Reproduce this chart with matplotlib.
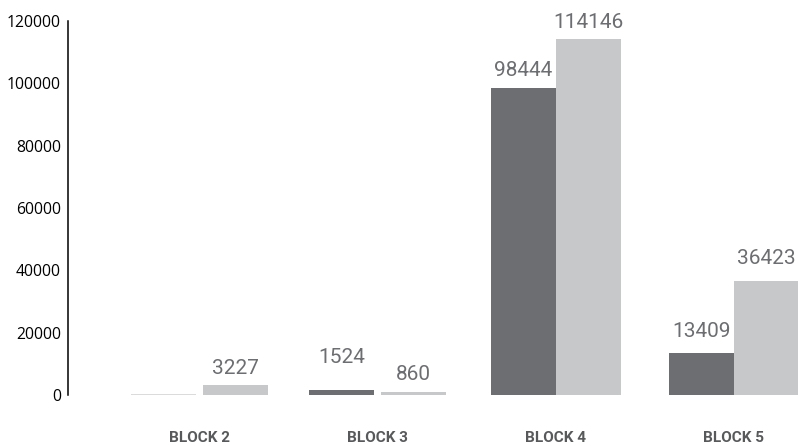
import matplotlib
matplotlib.use("Agg")
import matplotlib.pyplot as plt
import numpy as np

# --- Data ---
blocks = ["BLOCK 2", "BLOCK 3", "BLOCK 4", "BLOCK 5"]
series_dark = [0, 1524, 98444, 13409]
series_light = [3227, 860, 114146, 36423]

# label offsets above the bar top (points), tuned so labels don't collide
dark_offsets = [None, 17, 6, 9]
light_offsets = [5, 6, 5.5, 10]

DARK = "#6d6e71"
LIGHT = "#c7c8ca"
TEXT = "#6d6e71"

fig = plt.figure(figsize=(7.98, 4.46), dpi=100)
ax = fig.add_axes([0.0852, 0.1143, 0.9148, 0.8386])

x = np.arange(len(blocks))
width = 0.365
gaps = [0.039, 0.039, 0.0, 0.0]

for i in range(len(blocks)):
    shift = (width + gaps[i]) / 2
    xd, xl = x[i] - shift, x[i] + shift
    if series_dark[i] == 0:
        # empty bar still shows as a faint baseline
        ax.bar(xd, series_dark[i], width, color=DARK, edgecolor="#d4d4d4", linewidth=1.2)
    else:
        ax.bar(xd, series_dark[i], width, color=DARK, linewidth=0)
    ax.bar(xl, series_light[i], width, color=LIGHT, linewidth=0)

    if dark_offsets[i] is not None:
        ax.annotate(str(series_dark[i]), (xd, series_dark[i]), xytext=(0, dark_offsets[i]),
                    textcoords="offset points", ha="center", va="bottom",
                    fontsize=15, family="Roboto", color=TEXT)
    ax.annotate(str(series_light[i]), (xl, series_light[i]), xytext=(0, light_offsets[i]),
                textcoords="offset points", ha="center", va="bottom",
                fontsize=15, family="Roboto", color=TEXT)

ax.set_xlim(-0.739, 3.362)
ax.set_ylim(0, 120000)
ax.set_yticks(range(0, 120001, 20000))
ax.set_yticklabels([str(v) for v in range(0, 120001, 20000)], family="Open Sans", fontsize=11.3)
ax.tick_params(axis="y", length=0, pad=5)

ax.set_xticks(x)
ax.set_xticklabels(blocks, family="Roboto", fontweight="bold", fontsize=11, color="#58595b")
ax.tick_params(axis="x", length=0, pad=26)

for side in ["top", "right", "bottom"]:
    ax.spines[side].set_visible(False)
ax.spines["left"].set_linewidth(1.1)
ax.spines["left"].set_color("black")

fig.savefig("out.png", dpi=100)
